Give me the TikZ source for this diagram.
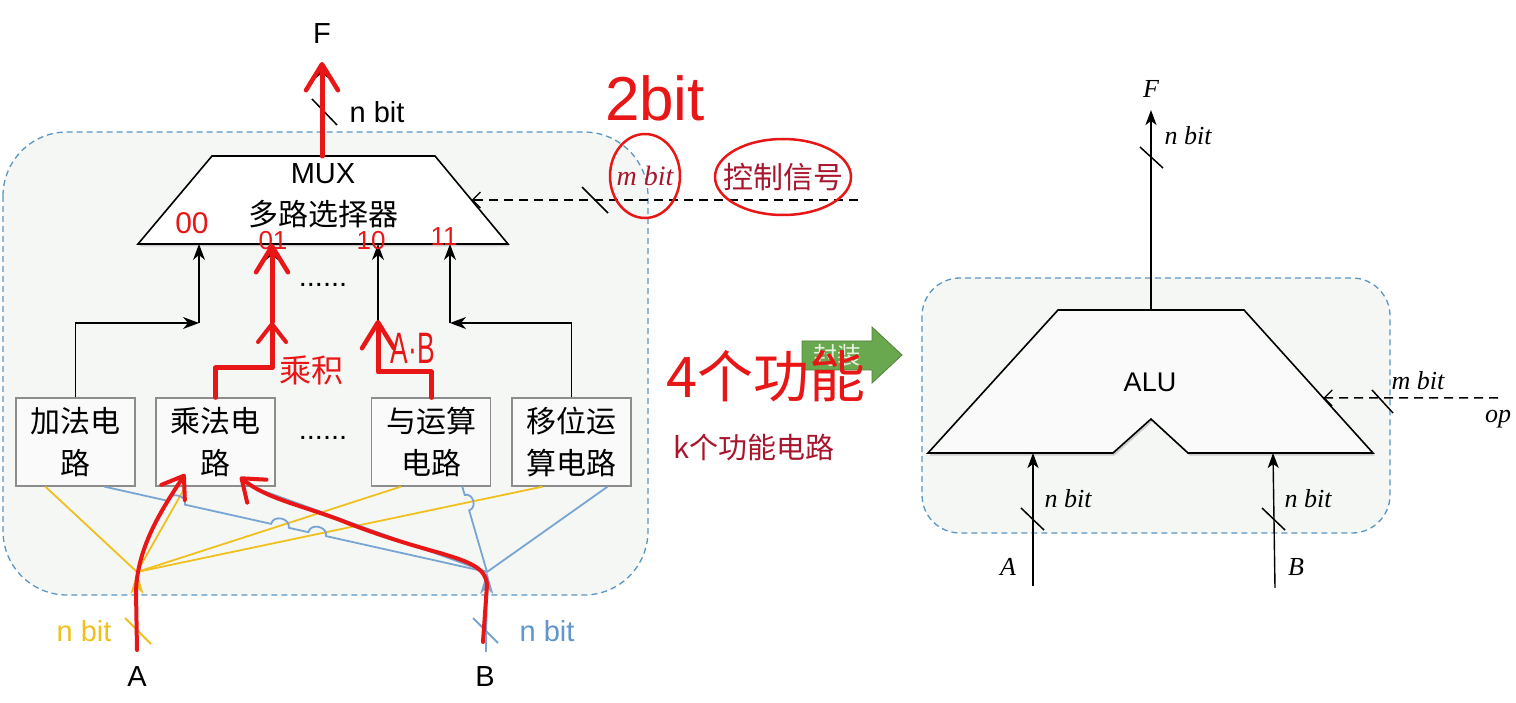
\documentclass[tikz,border=0pt]{standalone}
\usepackage{fontspec}
\setmainfont{Liberation Sans}
\newfontfamily\cjk{Noto Sans CJK SC}
\newfontfamily\tms{Liberation Serif}
\usetikzlibrary{arrows.meta,calc,shadows}
\definecolor{yel}{RGB}{240,192,30}
\definecolor{blu}{RGB}{120,165,210}
\definecolor{blutxt}{RGB}{95,150,205}
\definecolor{dashc}{RGB}{90,150,195}
\definecolor{boxfill}{RGB}{245,247,245}
\definecolor{fboxc}{RGB}{140,140,140}
\definecolor{fboxfill}{RGB}{249,250,249}
\definecolor{hred}{RGB}{232,22,22}
\definecolor{dred}{RGB}{168,22,45}
\definecolor{grn}{RGB}{106,168,79}
\definecolor{grnd}{RGB}{80,130,60}
\definecolor{grntxt}{RGB}{228,244,222}
\begin{document}
\begin{tikzpicture}[x=1pt,y=-1pt,
  dashbox/.style={draw=dashc, fill=boxfill, line width=1.3pt, dash pattern=on 6pt off 4pt},
  funcbox/.style={draw=fboxc, fill=fboxfill, line width=1.3pt, minimum width=119pt, minimum height=88pt, inner sep=0pt, align=center, font=\cjk\fontsize{30}{42}\selectfont},
  blk/.style={draw=black, line width=1.4pt},
  blkarrow/.style={blk, -{Stealth[length=16pt,width=12pt,inset=5pt]}},
  ylw/.style={draw=yel, line width=1.8pt},
  bl/.style={draw=blu, line width=1.8pt},
  ctrl/.style={draw=black, line width=1.5pt, dash pattern=on 9pt off 6pt, -{Straight Barb[length=8pt,width=16pt,line width=1.3pt]}},
  slash/.style={draw=black, line width=1.5pt},
  redpen/.style={draw=hred, line width=5pt, line cap=round, line join=round},
  redarr/.style={redpen, -{Straight Barb[length=26pt,width=32pt,line width=4.5pt,round]}},
  redarrs/.style={redpen, -{Straight Barb[length=18pt,width=28pt,line width=4pt,round]}},
  redring/.style={draw=hred, line width=2.5pt},
  lbl/.style={font=\fontsize{29}{35}\selectfont, inner sep=0pt},
  itl/.style={font=\tms\itshape\fontsize{26}{30}\selectfont, inner sep=0pt},
  hand/.style={text=hred, inner sep=0pt},
  bump/.style={bend left=90, looseness=1.4}
]
\useasboundingbox (0,0) rectangle (1516,703);
\fill[white] (0,0) rectangle (1516,703);

% ---------- dashed regions ----------
\draw[dashbox, rounded corners=64pt] (3,132) rectangle (648,595);
\draw[dashbox, rounded corners=38pt] (922,278) rectangle (1390,533);

% ---------- function boxes ----------
\node[funcbox] (nAdd) at (75.5,442) {加法电\\路};
\node[funcbox] (nMul) at (215.5,442) {乘法电\\路};
\node[funcbox] (nAnd) at (431,442) {与运算\\电路};
\node[funcbox] (nShf) at (571.5,442) {移位运\\算电路};
\node[lbl] (dots2) at (323,438) {......};

% ---------- MUX ----------
\coordinate (muxTL) at (212,156);
\coordinate (muxTR) at (435,156);
\coordinate (muxBR) at (508,244);
\coordinate (muxBL) at (138,244);
\filldraw[draw=black, fill=white, line width=1.6pt, drop shadow={shadow xshift=1.5pt, shadow yshift=-2.5pt, opacity=0.35}]
  (muxTL) -- (muxTR) -- (muxBR) -- (muxBL) -- cycle;
\node[lbl] (muxname) at (323,174) {MUX};
\node[lbl, font=\cjk\fontsize{30}{36}\selectfont] (muxcn) at (323,214) {多路选择器};
\coordinate (m1) at (199,244);
\coordinate (m2) at (272,244);
\coordinate (m3) at (378,244);
\coordinate (m4) at (450,244);
\coordinate (muxTop) at (322,156);
\node[lbl] (dots1) at (323,285) {......};

% ---------- box -> MUX connectors ----------
\coordinate (j1) at (199,323);
\coordinate (j2) at (272,368);
\coordinate (j3) at (378,372);
\coordinate (j4) at (450,323);
\draw[blkarrow] (nAdd.north) |- (j1);
\draw[blkarrow] (j1) -- (m1);
\draw[blkarrow] (nMul.north) |- (j2) -- (m2);
\draw[blkarrow] (nAnd.north) |- (j3) -- (m3);
\draw[blkarrow] (nShf.north) |- (j4);
\draw[blkarrow] (j4) -- (m4);

% ---------- output F ----------
\node[lbl] (Fl) at (322,34) {F};
\coordinate (Ftip) at (322,62);
\draw[blkarrow] (muxTop) -- (Ftip);
\draw[slash] (312,99) -- (337,125);
\node[lbl] (nbF) at (377,112) {n bit};

% ---------- control input ----------
\coordinate (ctrlS) at (858,200);
\coordinate (ctrlE) at ($(muxTR)!0.5!(muxBR)$);
\draw[ctrl] (ctrlS) -- (ctrlE);
\draw[slash] (582,187) -- (608,213);
\node[itl, text=dred, font=\tms\itshape\fontsize{28}{32}\selectfont] (mbitL) at (645,176) {m bit};
\node[inner sep=0pt, text=dred, font=\cjk\fontsize{30}{36}\selectfont] (ctl) at (783,177) {控制信号};

% ---------- inputs A, B (left) ----------
\coordinate (Af) at (137,572);
\coordinate (Bf) at (487,572);
\coordinate (yA1) at ($(nAdd.south west)!0.25!(nAdd.south east)$);
\coordinate (yA2) at ($(nMul.south west)!0.25!(nMul.south east)$);
\coordinate (yA3) at ($(nAnd.south west)!0.25!(nAnd.south east)$);
\coordinate (yA4) at ($(nShf.south west)!0.26!(nShf.south east)$);
\coordinate (bB1) at ($(nAdd.south west)!0.74!(nAdd.south east)$);
\coordinate (bB2) at ($(nMul.south west)!0.80!(nMul.south east)$);
\coordinate (bB3) at ($(nAnd.south west)!0.76!(nAnd.south east)$);
\coordinate (bB4) at ($(nShf.south west)!0.80!(nShf.south east)$);

\draw[ylw] (Af) -- (yA1);
\draw[ylw] (Af) -- (yA2);
\draw[ylw] (Af) -- (yA3);
\draw[ylw] (Af) -- (yA4);

\coordinate (X1) at (intersection of bB1--Bf and Af--yA2);
\coordinate (X2) at (intersection of bB1--Bf and Af--yA3);
\coordinate (X3) at (intersection of bB1--Bf and Af--yA4);
\coordinate (X4) at (intersection of bB3--Bf and Af--yA4);
\draw[bl] (bB1) -- ($(X1)!9pt!(bB1)$) to[bump] ($(X1)!9pt!(Bf)$)
  -- ($(X2)!9pt!(bB1)$) to[bump] ($(X2)!9pt!(Bf)$)
  -- ($(X3)!9pt!(bB1)$) to[bump] ($(X3)!9pt!(Bf)$) -- (Bf);
\draw[bl] (bB2) -- (Bf);
\draw[bl] (bB3) -- ($(X4)!8pt!(bB3)$) to[bump] ($(X4)!8pt!(Bf)$) -- (Bf);
\draw[bl] (bB4) -- (Bf);

\node[lbl] (Al) at (137,677) {A};
\node[lbl] (Bl) at (485,677) {B};
\coordinate (Ain) at (137,652);
\coordinate (Bin) at (486,652);
\draw[ylw, -{Stealth[length=22pt,width=13pt,inset=6pt]}] (Ain) -- (Af);
\draw[bl, -{Stealth[length=22pt,width=13pt,inset=6pt]}] (Bin) -- (Bf);
\draw[draw=yel, line width=1.8pt] (125,618) -- (151,644);
\draw[draw=blu, line width=1.8pt] (473,618) -- (498,643);
\node[lbl, text=yel] (nbA) at (84,631) {n bit};
\node[lbl, text=blutxt] (nbB) at (547,631) {n bit};

% ---------- green arrow ----------
\filldraw[fill=grn, draw=grnd, line width=0.8pt] (802,341) -- (872,341) -- (872,327) -- (902,355) -- (872,383) -- (872,370) -- (802,370) -- cycle;
\node[inner sep=0pt, text=grntxt, font=\cjk\fontsize{24}{28}\selectfont] (fz) at (837,355) {封装};

\node[inner sep=0pt, text=dred, font=\cjk\fontsize{29}{34}\selectfont] (kfn) at (754,447) {k个功能电路};

% ---------- ALU (right) ----------
\coordinate (aluTL) at (1058,310);
\coordinate (aluTR) at (1244,310);
\coordinate (aluBR) at (1373,453);
\coordinate (aluBL) at (928,453);
\filldraw[draw=black, fill=boxfill!60!white, line width=1.6pt, line join=miter, drop shadow={shadow xshift=1.5pt, shadow yshift=-2.5pt, opacity=0.35}]
  (aluTL) -- (aluTR) -- (aluBR) -- (1188,453) -- (1151,419) -- (1113,453) -- (aluBL) -- cycle;
\node[inner sep=0pt, font=\fontsize{27}{32}\selectfont] (alut) at (1150,382) {ALU};
\coordinate (aluTop) at (1151,310);
\coordinate (aluF) at (1151,110);
\draw[blk, -{Stealth[length=15pt,width=11pt,inset=4pt]}] (aluTop) -- (aluF);
\node[itl] (Fr) at (1151,89) {F};
\draw[slash] (1140,147) -- (1163,168);
\node[itl] (nbFr) at (1188,136) {n bit};

\coordinate (aA) at (1033,586);
\coordinate (aAt) at (1033,453);
\draw[blk, -{Stealth[length=15pt,width=11pt,inset=4pt]}] (aA) -- (aAt);
\draw[slash] (1021,508) -- (1044,530);
\node[itl] (nbAr) at (1068,499) {n bit};
\node[itl] (Ar) at (1008,567) {A};

\coordinate (aB) at (1275,588);
\coordinate (aBt) at (1273,453);
\draw[blk, -{Stealth[length=15pt,width=11pt,inset=4pt]}] (aB) -- (aBt);
\draw[slash] (1262,508) -- (1285,530);
\node[itl] (nbBr) at (1308,499) {n bit};
\node[itl] (Br) at (1296,567) {B};

\coordinate (opS) at (1498,398);
\coordinate (opE) at ($(aluTR)!0.615!(aluBR)$);
\draw[ctrl] (opS) -- (opE);
\draw[slash] (1372,390) -- (1393,413);
\node[itl] (mbR) at (1418,381) {m bit};
\node[itl] (opl) at (1498,419) {op};

% ---------- red handwriting ----------
\draw[redarr] (muxTop) -- (Ftip);
\coordinate (r2mid) at (272,322);
\draw[redarrs] (nMul.north) |- (j2) -- (r2mid);
\draw[redarr] (r2mid) -- (m2);
\coordinate (r3tip) at (378,320);
\draw[redarr] (nAnd.north) |- (j3) -- (r3tip);

\coordinate (rA0) at (137,650);
\coordinate (rAtip) at (185,474);
\draw[redpen, line width=4pt, -{Straight Barb[length=20pt,width=28pt,line width=4pt,round]}]
  (rA0) -- (136,592) .. controls (137,545) and (165,505) .. (rAtip);
\coordinate (rB0) at (483,642);
\coordinate (rBtip) at (240,477);
\draw[redpen, line width=4pt, -{Straight Barb[length=20pt,width=30pt,line width=4pt,round]}]
  (rB0) -- (487,585) .. controls (486,568) and (470,562) .. (440,553)
  .. controls (400,542) and (370,532) .. (340,520)
  .. controls (300,505) and (265,498) .. (rBtip);

\node[hand, font=\fontsize{30}{34}\selectfont] (h00) at (192,223) {00};
\node[hand, font=\fontsize{26}{30}\selectfont] (h01) at (273,241) {01};
\node[hand, font=\fontsize{26}{30}\selectfont] (h10) at (371,241) {10};
\node[hand, font=\fontsize{26}{30}\selectfont] (h11) at (444,237) {11};
\node[hand, font=\cjk\fontsize{32}{36}\selectfont] (hmul) at (311,370) {乘积};
\node[hand, font=\fontsize{44}{48}\selectfont] (hab) at (413,348) {\scalebox{0.6}[1]{A·B}};
\node[hand, font=\fontsize{62}{68}\selectfont] (h2bit) at (655,98) {2bit};
\draw[redring] (mbitL) ellipse [x radius=35, y radius=42];
\draw[redring] (ctl) ellipse [x radius=68, y radius=38];
\node[hand, font=\cjk\fontsize{56}{60}\selectfont] (h4fn) at (766,376) {4个功能};
\end{tikzpicture}
\end{document}
